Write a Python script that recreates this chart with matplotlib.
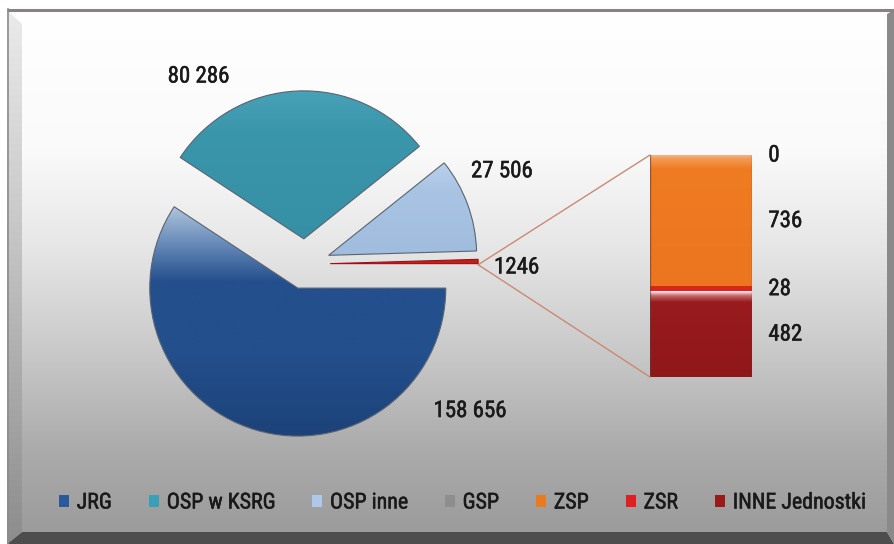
import numpy as np
import matplotlib
matplotlib.use('Agg')
import matplotlib.pyplot as plt
import matplotlib.patheffects as pe
from matplotlib import font_manager as fm
from matplotlib.patches import Polygon, Patch, ConnectionPatch

# ---------------- data ----------------
pie_labels = ['JRG', 'OSP w KSRG', 'OSP inne', 'Pozostałe']
pie_values = [158656, 80286, 27506, 1246]
pie_texts = ['158 656', '80 286', '27 506', '1246']

bar_labels = ['GSP', 'ZSP', 'ZSR', 'INNE Jednostki']
bar_values = [0, 736, 28, 482]
bar_texts = ['0', '736', '28', '482']

legend_labels = ['JRG', 'OSP w KSRG', 'OSP inne', 'GSP', 'ZSP', 'ZSR', 'INNE Jednostki']

# ---------------- font choice (condensed if available) ----------------
def pick_font():
    ttf = fm.fontManager.ttflist
    names = {f.name for f in ttf}
    for p in ['Liberation Sans Narrow', 'Roboto Condensed', 'DejaVu Sans Condensed',
              'Open Sans Condensed', 'Noto Sans Condensed', 'Noto Sans Display Condensed']:
        if p in names:
            return p, 'normal'
    for f in ttf:
        st = str(f.stretch).lower()
        if 'condensed' in st or 'narrow' in f.name.lower() or 'condensed' in f.name.lower():
            return f.name, f.stretch
    if 'Roboto' in names:
        return 'Roboto', 'normal'
    return 'DejaVu Sans', 'normal'

FONT, STRETCH = pick_font()
plt.rcParams['font.family'] = [FONT, 'DejaVu Sans']
plt.rcParams['font.stretch'] = STRETCH
TXT = '#1a1a1a'
thick = [pe.withStroke(linewidth=0.35, foreground=TXT)]

# ---------------- styles ----------------
pie_colors = ['#234f8c', '#3a94aa', '#a7c2e2', '#c0201c']
bar_colors = ['#8c8c8c', '#ee7a22', '#d8261e', '#991b1e']
legend_colors = ['#2a5a9a', '#3aa0b8', '#b0c8e8', '#8e8e8e', '#e87a20', '#e02020', '#9a1a1a']
W, H = 894, 544

fig = plt.figure(figsize=(W / 100, H / 100), dpi=100)
fig.patch.set_facecolor('white')

# ---------------- background frame ----------------
bg = fig.add_axes([0, 0, 1, 1])
bg.axis('off')
ys = np.arange(12, 533)
gv = np.interp(ys, [12, 150, 250, 350, 450, 532], [1.0, 0.98, 0.90, 0.79, 0.67, 0.61])
grad_rgb = np.dstack([np.repeat(gv[:, None], 2, axis=1)] * 3)
bg.imshow(grad_rgb, extent=(22, 887, 532, 12), aspect='auto', interpolation='bilinear', zorder=0)

lb = Polygon([(7, 10), (22, 24), (22, 532), (7, 544)], closed=True, facecolor='none', edgecolor='none')
bg.add_patch(lb)
lv = np.interp(np.arange(10, 545), [10, 200, 544], [0.92, 0.80, 0.55])
lrgb = np.dstack([np.repeat(lv[:, None], 2, 1)] * 3)
im = bg.imshow(lrgb, extent=(7, 22, 544, 10), aspect='auto', interpolation='bilinear', zorder=1)
im.set_clip_path(lb)
bg.add_patch(Polygon([(887, 14), (894, 10), (894, 544), (887, 532)], closed=True,
                     facecolor='#8a8a8a', edgecolor='none', zorder=1))
bg.add_patch(Polygon([(7, 544), (22, 532), (887, 532), (894, 544)], closed=True,
                     facecolor='#4d4d4d', edgecolor='none', zorder=1))
bg.plot([7, 894], [9.5, 9.5], color='#8a8282', lw=2.2, zorder=2, solid_capstyle='butt')
bg.plot([7.5, 7.5], [9, 544], color='#8c8c8c', lw=1.2, zorder=2)
bg.set_xlim(0, W)
bg.set_ylim(H, 0)

# ---------------- pie ----------------
cx, cy, half = 305, 264, 185
pax = fig.add_axes([(cx - half) / W, (H - (cy + half)) / H, 2 * half / W, 2 * half / H])
pax.patch.set_alpha(0)
wedges, _ = pax.pie(pie_values, startangle=0, counterclock=False,
                    explode=[0.17] * 4, colors=pie_colors,
                    wedgeprops=dict(linewidth=0.8, edgecolor='#5a6470'))

def vgrad(ax, patch, ystops, cstops, z):
    yy = np.linspace(-1.5, 1.5, 300)
    cs = np.array([matplotlib.colors.to_rgb(c) for c in cstops])
    arr = np.stack([np.interp(yy, ystops, cs[:, k]) for k in range(3)], axis=-1)
    arr = np.repeat(arr[:, None, :], 2, axis=1)
    im = ax.imshow(arr, extent=(-1.5, 1.5, -1.5, 1.5), origin='lower', aspect='auto',
                   interpolation='bilinear', zorder=z)
    im.set_clip_path(patch)

vgrad(pax, wedges[0], [-1.3, -0.6, -0.12, 0.15, 0.45, 0.7],
      ['#1b3f74', '#234f8c', '#244f8c', '#6a8dba', '#c3d2e4', '#d8e2ee'], 1.5)
vgrad(pax, wedges[1], [0.0, 0.9, 1.2, 1.4],
      ['#358ea4', '#3a96ab', '#4aa3b8', '#8cc8d6'], 1.5)
vgrad(pax, wedges[2], [0.0, 0.5, 0.8],
      ['#9fbbdd', '#a9c4e3', '#c4d7ee'], 1.5)
for w in wedges:
    w.set_zorder(2)
    w.set_facecolor('none')
wedges[3].set_facecolor(pie_colors[3])
wedges[3].set_edgecolor('#a01010')
pax.set_xlim(-1.25, 1.25)
pax.set_ylim(-1.25, 1.25)
pax.set_aspect('equal')
pax.axis('off')

pie_label_pos = [(1.115, -0.99), (-0.72, 1.27), (1.33, 0.63), (1.43, -0.02)]
for txt, (px, py) in zip(pie_texts, pie_label_pos):
    pax.text(px, py, txt, ha='center', va='center', fontsize=16.5, color=TXT,
             path_effects=thick)

# ---------------- bar of pie ----------------
bx0, bx1, by0, by1 = 650, 752, 155, 377
bax = fig.add_axes([bx0 / W, (H - by1) / H, (bx1 - bx0) / W, (by1 - by0) / H])
bax.patch.set_alpha(0)
order = list(range(len(bar_values)))[::-1]
bottom = 0
bar_patches, centers = {}, {}
for i in order:
    b = bax.bar(0, bar_values[i], width=1.0, bottom=bottom, color=bar_colors[i],
                edgecolor='none', zorder=2)
    bar_patches[i] = b.patches[0]
    centers[i] = bottom + bar_values[i] / 2
    bottom += bar_values[i]
total = bottom

def bar_grad(patch, y0, y1, stops, cols):
    yy = np.linspace(y0, y1, 200)
    cs = np.array([matplotlib.colors.to_rgb(c) for c in cols])
    arr = np.stack([np.interp(yy, stops, cs[:, k]) for k in range(3)], axis=-1)
    arr = np.repeat(arr[:, None, :], 2, axis=1)
    im = bax.imshow(arr, extent=(-0.5, 0.5, y0, y1), origin='lower', aspect='auto',
                    interpolation='bilinear', zorder=2.5)
    im.set_clip_path(patch)

zsp_top = centers[1] + bar_values[1] / 2
zsp_bot = centers[1] - bar_values[1] / 2
bar_grad(bar_patches[1], zsp_bot, zsp_top,
         [zsp_bot, zsp_top - 80, zsp_top - 25, zsp_top],
         ['#ec7520', '#ef7b22', '#f29a55', '#f7b98a'])
inne_top = bar_values[3]
bar_grad(bar_patches[3], 0, inne_top,
         [0, inne_top - 60, inne_top - 25, inne_top],
         ['#8f171a', '#991b1e', '#c46a6a', '#fbf4f2'])
bax.set_xlim(-0.5, 0.5)
bax.set_ylim(0, total)
bax.axis('off')
for xx in (-0.5, 0.5):
    bax.plot([xx, xx], [0, total], color='#6a3a2a', lw=1.0, zorder=3, alpha=0.6)

for i in range(len(bar_values)):
    yc = total if bar_values[i] == 0 else centers[i]
    bax.text(1.16, yc, bar_texts[i], transform=bax.get_yaxis_transform(),
             ha='left', va='center', fontsize=16.5, color=TXT, path_effects=thick)

tip = (1.17, -0.005)
for yb in (total, 0):
    con = ConnectionPatch(xyA=tip, coordsA=pax.transData, xyB=(-0.5, yb), coordsB=bax.transData,
                          color='#c98a74', lw=1.0, zorder=1)
    fig.add_artist(con)

# ---------------- legend (fit to reference metrics) ----------------
handles = [Patch(facecolor=c, edgecolor='none') for c in legend_colors]

def make_legend(fs, cs_px):
    px = fs * 100 / 72
    lg = fig.legend(handles, legend_labels, loc='center',
                    bbox_to_anchor=(462 / W, (H - 503) / H),
                    ncol=7, frameon=False, prop=dict(size=fs),
                    handlelength=10 / px, handleheight=10 / px,
                    handletextpad=8 / px, columnspacing=cs_px / px,
                    labelcolor=TXT, borderpad=0, borderaxespad=0)
    for t in lg.get_texts():
        t.set_path_effects(thick)
    return lg

fs, cs_px = 16.0, 39.0
for _ in range(5):
    leg = make_legend(fs, cs_px)
    fig.canvas.draw()
    tw = leg.get_texts()[1].get_window_extent().width
    wpx = leg.get_window_extent().width
    if abs(tw - 109) < 2 and abs(wpx - 805) < 4:
        break
    leg.remove()
    fs = fs * 109 / tw
    cs_px = cs_px + (805 - wpx * 109 / tw) / 6

fig.savefig('out.png', dpi=100)
